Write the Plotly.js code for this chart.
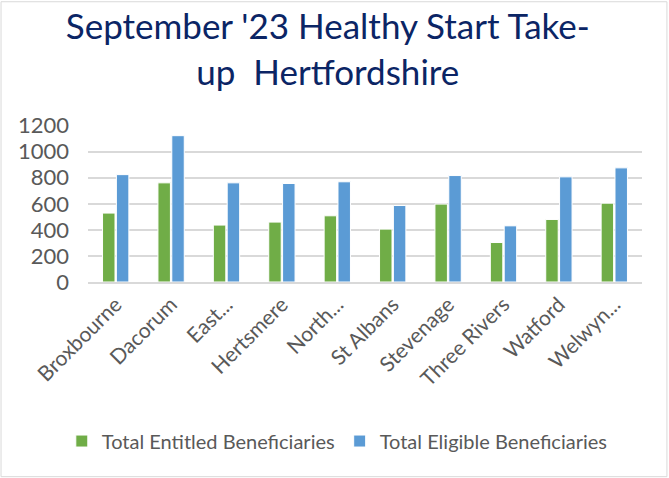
<!DOCTYPE html>
<html>
<head>
<meta charset="utf-8">
<script src="https://cdn.plot.ly/plotly-3.0.1.min.js"></script>
<style>html,body{margin:0;padding:0;background:#fff;}#chart{width:669px;height:478px;}</style>
</head>
<body>
<div id="chart"></div>
<script>
const categories = ["Broxbourne", "Dacorum", "East...", "Hertsmere", "North...", "St Albans", "Stevenage", "Three Rivers", "Watford", "Welwyn..."];
const entitled = [529, 761, 437, 460, 508, 406, 598, 303, 480, 605];
const eligible = [824, 1123, 761, 756, 769, 587, 817, 431, 807, 876];
const yTicks = [0, 200, 400, 600, 800, 1000, 1200];

const font = "Lato, 'Open Sans', sans-serif";
const traces = [
  {type: "bar", name: "Total Entitled Beneficiaries", x: categories, y: entitled,
   marker: {color: "#70AD47", line: {color: "#ffffff", width: 1}}},
  {type: "bar", name: "Total Eligible Beneficiaries", x: categories, y: eligible,
   marker: {color: "#5B9BD5", line: {color: "#ffffff", width: 1}}}
];
const layout = {
  width: 669, height: 478,
  margin: {l: 88, r: 27, t: 125, b: 196, autoexpand: false},
  paper_bgcolor: "#ffffff", plot_bgcolor: "#ffffff",
  title: {text: "September '23 Healthy Start Take-<br>up  Hertfordshire", x: 0.49, xanchor: "center", y: 0.918, yanchor: "top",
          font: {family: font, size: 35, color: "#0B2565"}},
  barmode: "group", bargap: 0.5, bargroupgap: 0.1,
  xaxis: {tickangle: -45, tickfont: {family: font, size: 21, color: "#595959"}, showline: true, linecolor: "#d9d9d9", linewidth: 2, ticks: "",
          automargin: false},
  yaxis: {range: [0, 1205], tickvals: yTicks, ticktext: yTicks.map(String), tickfont: {family: font, size: 22, color: "#595959"},
          showgrid: true, gridcolor: "#d9d9d9", gridwidth: 2, zeroline: false, ticks: "", ticklabelstandoff: 18, automargin: false},
  showlegend: true,
  legend: {orientation: "h", x: 0.45, xanchor: "center", y: -1.013, yanchor: "middle",
           font: {family: font, size: 20, color: "#595959"}, itemwidth: 30, tracegroupgap: 0},
  shapes: [{type: "rect", xref: "paper", yref: "paper", x0: -0.157, x1: 1.045, y0: -1.24, y1: 1.785, line: {color: "#d9d9d9", width: 1}}]
};
Plotly.newPlot("chart", traces, layout, {displayModeBar: false});
</script>
</body>
</html>
